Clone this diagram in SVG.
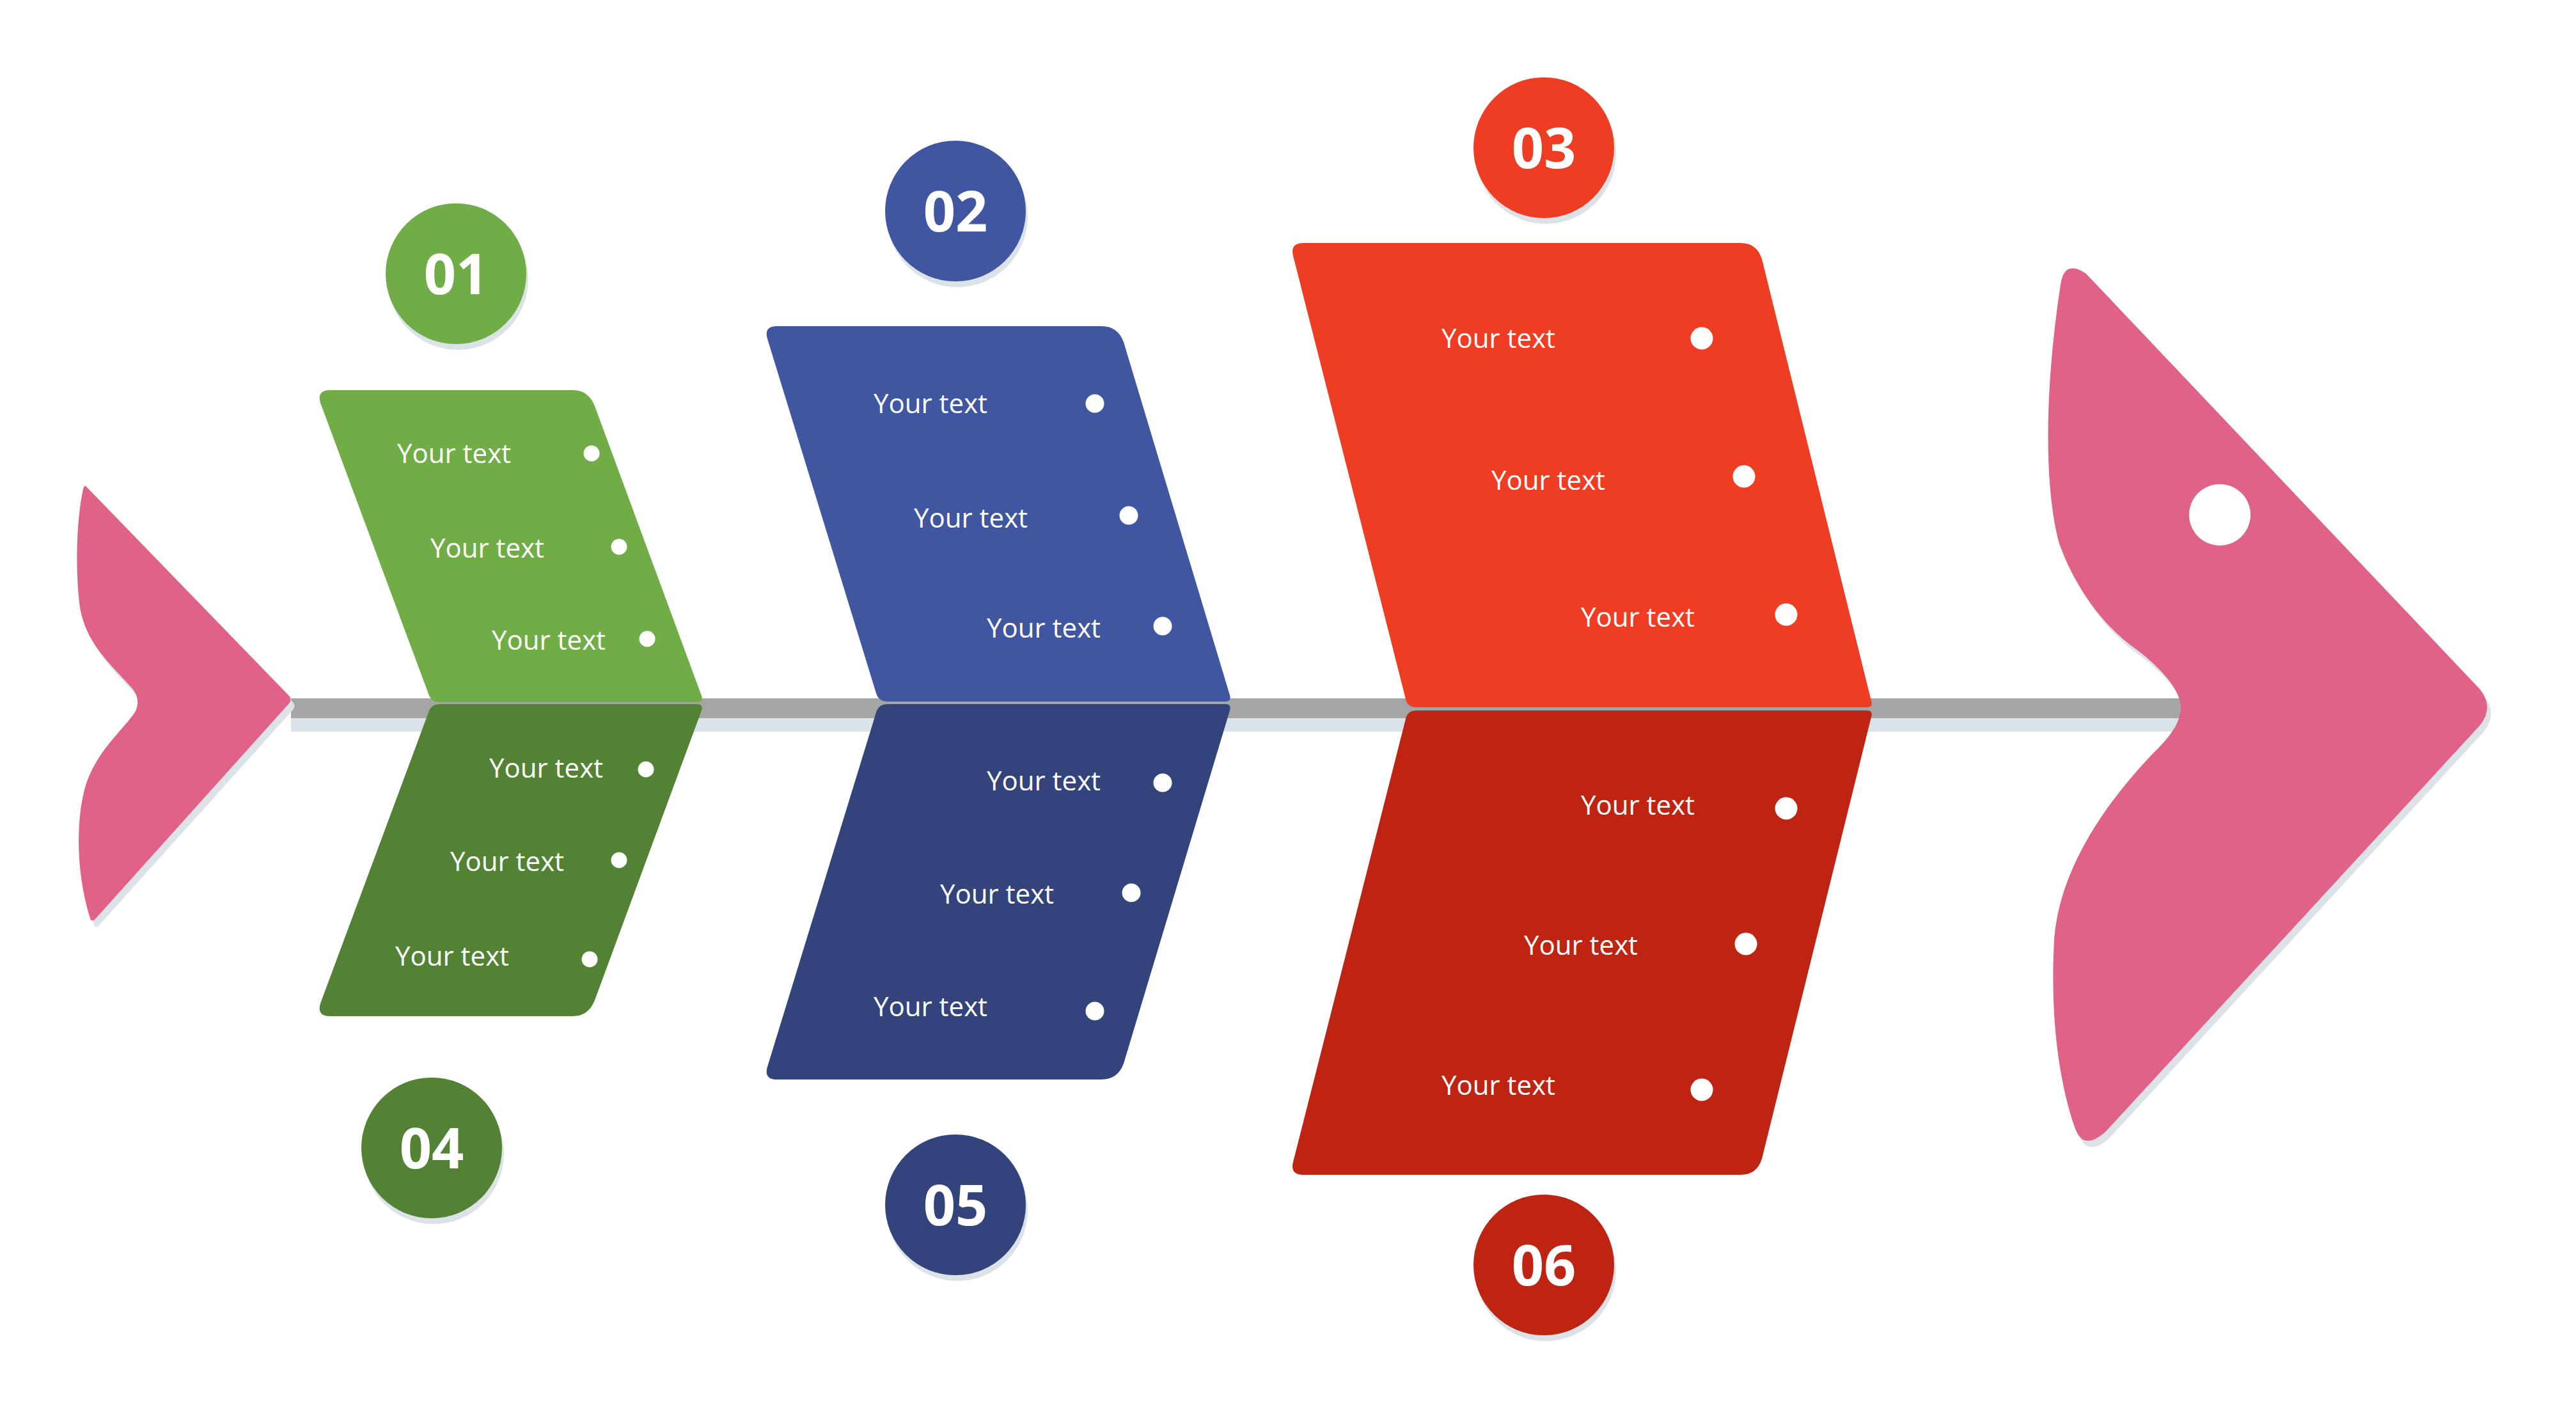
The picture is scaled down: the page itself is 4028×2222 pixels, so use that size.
<svg xmlns="http://www.w3.org/2000/svg" width="4028" height="2222" viewBox="0 0 4028 2222">
<style>
.txt{font-family:"Open Sans","Liberation Sans",sans-serif;font-size:42px;fill:#ffffff}
.num{font-family:"Open Sans","Liberation Sans",sans-serif;font-size:88px;font-weight:bold;fill:#ffffff;text-anchor:middle}
.dot{fill:#ffffff}
.shadow{fill:#DBE3E8}
.g1{fill:#70AD47}.g2{fill:#548235}
.b1{fill:#4056A1}.b2{fill:#33437C}
.r1{fill:#EF3D23}.r2{fill:#BF2312}
.pink{fill:#E06287}
</style>
<rect width="4028" height="2222" fill="#ffffff"/>
<g id="connectors">
<rect x="455" y="1123" width="2955" height="21" fill="#DBE3E8"/>
<rect x="455" y="1092" width="2955" height="31" fill="#A5A5A5"/>
</g>
<g id="tail">
<path class="shadow" transform="translate(6,10)" d="M134,760 L452,1088 Q457,1094 452,1100 L148,1438 Q143,1442 141,1436 C120,1370 118,1290 132,1235 C148,1175 195,1140 212,1112 Q220,1094 208,1078 C180,1045 135,1010 125,950 C117,890 120,810 130,765 Q132,758 134,760 Z"/>
<path class="pink" d="M134,760 L452,1088 Q457,1094 452,1100 L148,1438 Q143,1442 141,1436 C120,1370 118,1290 132,1235 C148,1175 195,1140 212,1112 Q220,1094 208,1078 C180,1045 135,1010 125,950 C117,890 120,810 130,765 Q132,758 134,760 Z"/>
</g>
<g id="head">
<path class="shadow" transform="translate(6,10)" d="M3222,445 Q3228,405 3262,428 L3878,1078 Q3900,1106 3878,1134 L3292,1770 Q3258,1800 3245,1765 C3222,1700 3205,1600 3212,1470 C3220,1360 3290,1260 3360,1185 C3385,1160 3410,1135 3410,1106 C3410,1080 3380,1045 3340,1015 C3290,980 3245,920 3220,850 C3195,760 3198,600 3222,445 Z"/>
<path class="pink" d="M3222,445 Q3228,405 3262,428 L3878,1078 Q3900,1106 3878,1134 L3292,1770 Q3258,1800 3245,1765 C3222,1700 3205,1600 3212,1470 C3220,1360 3290,1260 3360,1185 C3385,1160 3410,1135 3410,1106 C3410,1080 3380,1045 3340,1015 C3290,980 3245,920 3220,850 C3195,760 3198,600 3222,445 Z"/>
<circle cx="3471" cy="805" r="48" fill="#ffffff"/>
</g>
<g id="panel-01">
<path class="g1" d="M501,630 Q495,610 516,610 L896,610 Q920,610 930,635 L1097,1088 Q1100,1098 1090,1098 L688,1098 Q674,1098 670,1085 Z"/>
<text class="txt" x="621" y="724">Your text</text>
<text class="txt" x="673" y="872">Your text</text>
<text class="txt" x="769" y="1016">Your text</text>
<circle class="dot" cx="925" cy="709" r="12.5"/>
<circle class="dot" cx="968" cy="855" r="12.5"/>
<circle class="dot" cx="1012" cy="999" r="12.5"/>
</g>
<g id="panel-04">
<path class="g2" d="M670,1114 Q674,1101 688,1101 L1090,1101 Q1100,1101 1097,1111 L930,1564 Q920,1589 896,1589 L516,1589 Q495,1589 501,1569 Z"/>
<text class="txt" x="765" y="1216">Your text</text>
<text class="txt" x="704" y="1362">Your text</text>
<text class="txt" x="618" y="1510">Your text</text>
<circle class="dot" cx="1010" cy="1203" r="12.5"/>
<circle class="dot" cx="968" cy="1345" r="12.5"/>
<circle class="dot" cx="922" cy="1500" r="12.5"/>
</g>
<g id="panel-02">
<path class="b1" d="M1200,530 Q1194,510 1215,510 L1722,510 Q1748,510 1757,535 L1923,1087 Q1926,1097 1916,1097 L1388,1097 Q1374,1097 1370,1084 Z"/>
<text class="txt" x="1366" y="646">Your text</text>
<text class="txt" x="1429" y="825">Your text</text>
<text class="txt" x="1543" y="997">Your text</text>
<circle class="dot" cx="1712" cy="631" r="14.5"/>
<circle class="dot" cx="1765" cy="806" r="14.5"/>
<circle class="dot" cx="1818" cy="979" r="14.5"/>
</g>
<g id="panel-05">
<path class="b2" d="M1370,1114 Q1374,1101 1388,1101 L1916,1101 Q1926,1101 1923,1111 L1757,1663 Q1748,1688 1722,1688 L1215,1688 Q1194,1688 1200,1668 Z"/>
<text class="txt" x="1543" y="1236">Your text</text>
<text class="txt" x="1470" y="1413">Your text</text>
<text class="txt" x="1366" y="1589">Your text</text>
<circle class="dot" cx="1818" cy="1224" r="14.5"/>
<circle class="dot" cx="1769" cy="1396" r="14.5"/>
<circle class="dot" cx="1712" cy="1581" r="14.5"/>
</g>
<g id="panel-03">
<path class="r1" d="M2022,400 Q2017,380 2038,380 L2722,380 Q2747,380 2755,405 L2926,1096 Q2929,1106 2919,1106 L2215,1106 Q2201,1106 2198,1093 Z"/>
<text class="txt" x="2254" y="544">Your text</text>
<text class="txt" x="2332" y="766">Your text</text>
<text class="txt" x="2472" y="980">Your text</text>
<circle class="dot" cx="2661" cy="529" r="17.5"/>
<circle class="dot" cx="2727" cy="745" r="17.5"/>
<circle class="dot" cx="2793" cy="961" r="17.5"/>
</g>
<g id="panel-06">
<path class="r2" d="M2198,1124 Q2201,1111 2215,1111 L2919,1111 Q2929,1111 2926,1121 L2755,1812 Q2747,1837 2722,1837 L2038,1837 Q2017,1837 2022,1817 Z"/>
<text class="txt" x="2472" y="1274">Your text</text>
<text class="txt" x="2383" y="1493">Your text</text>
<text class="txt" x="2254" y="1712">Your text</text>
<circle class="dot" cx="2793" cy="1264" r="17.5"/>
<circle class="dot" cx="2730" cy="1476" r="17.5"/>
<circle class="dot" cx="2661" cy="1704" r="17.5"/>
</g>
<g id="badge-01">
<circle class="shadow" cx="716" cy="437" r="110"/>
<circle class="g1" cx="713" cy="428" r="110"/>
<text class="num" x="713" y="460">01</text>
</g>
<g id="badge-02">
<circle class="shadow" cx="1497" cy="339" r="110"/>
<circle class="b1" cx="1494" cy="330" r="110"/>
<text class="num" x="1494" y="362">02</text>
</g>
<g id="badge-03">
<circle class="shadow" cx="2417" cy="240" r="110"/>
<circle class="r1" cx="2414" cy="231" r="110"/>
<text class="num" x="2414" y="263">03</text>
</g>
<g id="badge-04">
<circle class="shadow" cx="678" cy="1804" r="110"/>
<circle class="g2" cx="675" cy="1795" r="110"/>
<text class="num" x="675" y="1827">04</text>
</g>
<g id="badge-05">
<circle class="shadow" cx="1497" cy="1893" r="110"/>
<circle class="b2" cx="1494" cy="1884" r="110"/>
<text class="num" x="1494" y="1916">05</text>
</g>
<g id="badge-06">
<circle class="shadow" cx="2417" cy="1987" r="110"/>
<circle class="r2" cx="2414" cy="1978" r="110"/>
<text class="num" x="2414" y="2010">06</text>
</g>
</svg>
